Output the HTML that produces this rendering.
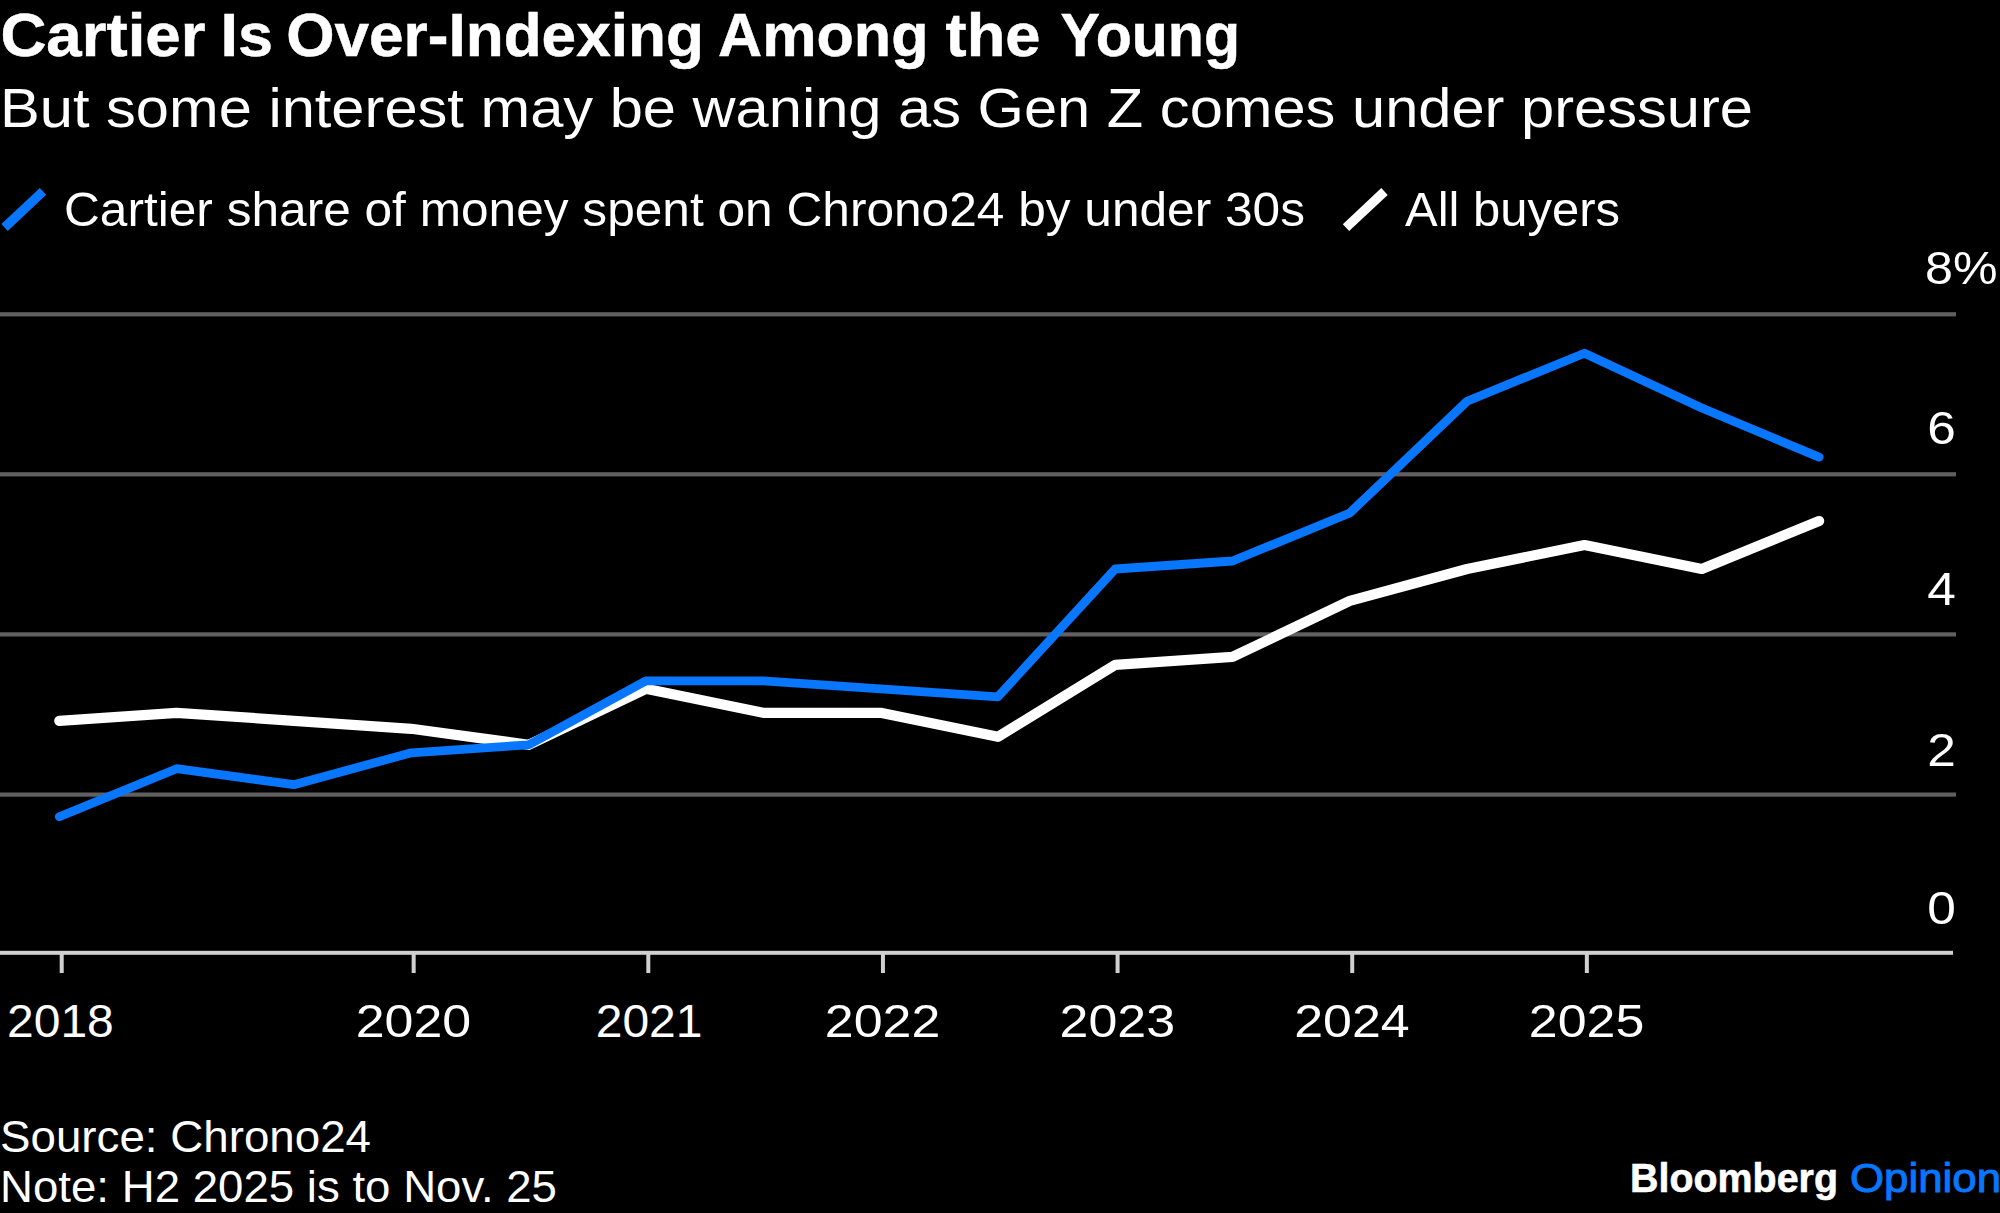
<!DOCTYPE html>
<html lang="en">
<head>
<meta charset="utf-8">
<title>Cartier Is Over-Indexing Among the Young</title>
<style>
html,body{margin:0;padding:0;background:#000;}
body{width:2000px;height:1213px;overflow:hidden;}
svg{display:block;}
text{font-family:"Liberation Sans",sans-serif;fill:#fff;}
</style>
</head>
<body>
<svg width="2000" height="1213" viewBox="0 0 2000 1213">
<rect width="2000" height="1213" fill="#000"/>
<text y="56.2" font-size="62" font-weight="bold" stroke="#fff" stroke-width="0.5"><tspan x="0.4" textLength="205.1" lengthAdjust="spacingAndGlyphs">Cartier</tspan> <tspan x="220.6" textLength="52.5" lengthAdjust="spacingAndGlyphs">Is</tspan> <tspan x="286.2" textLength="417.7" lengthAdjust="spacingAndGlyphs">Over-Indexing</tspan> <tspan x="718.0" textLength="210.5" lengthAdjust="spacingAndGlyphs">Among</tspan> <tspan x="945.6" textLength="95.0" lengthAdjust="spacingAndGlyphs">the</tspan> <tspan x="1060.6" textLength="179.5" lengthAdjust="spacingAndGlyphs">Young</tspan></text>
<text x="0" y="127" font-size="56" textLength="1753" lengthAdjust="spacingAndGlyphs">But some interest may be waning as Gen Z comes under pressure</text>
<line x1="4.6" y1="227.5" x2="43" y2="191.3" stroke="#0876fd" stroke-width="9.3"/>
<text x="64" y="226.3" font-size="48.5" textLength="1241" lengthAdjust="spacingAndGlyphs">Cartier share of money spent on Chrono24 by under 30s</text>
<line x1="1346" y1="227.7" x2="1384.5" y2="191.5" stroke="#fff" stroke-width="9.3"/>
<text x="1405" y="226.3" font-size="48.5" textLength="215" lengthAdjust="spacingAndGlyphs">All buyers</text>
<rect x="0" y="312.2" width="1956" height="4.2" fill="#606060"/>
<rect x="0" y="472.2" width="1956" height="4.2" fill="#606060"/>
<rect x="0" y="632.3" width="1956" height="4.2" fill="#606060"/>
<rect x="0" y="792.5" width="1956" height="4.2" fill="#606060"/>
<text x="1925.0" y="284.0" font-size="46.5" textLength="72.5" lengthAdjust="spacingAndGlyphs">8%</text>
<text x="1927.3" y="444.4" font-size="46.5" textLength="28.6" lengthAdjust="spacingAndGlyphs">6</text>
<text x="1927.3" y="605.0" font-size="46.5" textLength="28.6" lengthAdjust="spacingAndGlyphs">4</text>
<text x="1927.3" y="765.9" font-size="46.5" textLength="28.6" lengthAdjust="spacingAndGlyphs">2</text>
<text x="1927.3" y="924.4" font-size="46.5" textLength="28.6" lengthAdjust="spacingAndGlyphs">0</text>
<rect x="0" y="950.8" width="1953" height="4" fill="#d0d0d0"/>
<rect x="59.70" y="952" width="4" height="21" fill="#d0d0d0"/>
<rect x="411.66" y="952" width="4" height="21" fill="#d0d0d0"/>
<rect x="646.30" y="952" width="4" height="21" fill="#d0d0d0"/>
<rect x="880.94" y="952" width="4" height="21" fill="#d0d0d0"/>
<rect x="1115.58" y="952" width="4" height="21" fill="#d0d0d0"/>
<rect x="1350.22" y="952" width="4" height="21" fill="#d0d0d0"/>
<rect x="1584.86" y="952" width="4" height="21" fill="#d0d0d0"/>
<text x="60.4" y="1036.8" font-size="46.5" text-anchor="middle" textLength="106.8" lengthAdjust="spacingAndGlyphs">2018</text>
<text x="413.4" y="1036.8" font-size="46.5" text-anchor="middle" textLength="115.5" lengthAdjust="spacingAndGlyphs">2020</text>
<text x="649.1" y="1036.8" font-size="46.5" text-anchor="middle" textLength="106.8" lengthAdjust="spacingAndGlyphs">2021</text>
<text x="882.6" y="1036.8" font-size="46.5" text-anchor="middle" textLength="115.5" lengthAdjust="spacingAndGlyphs">2022</text>
<text x="1117.3" y="1036.8" font-size="46.5" text-anchor="middle" textLength="115.5" lengthAdjust="spacingAndGlyphs">2023</text>
<text x="1351.9" y="1036.8" font-size="46.5" text-anchor="middle" textLength="115.5" lengthAdjust="spacingAndGlyphs">2024</text>
<text x="1586.6" y="1036.8" font-size="46.5" text-anchor="middle" textLength="115.5" lengthAdjust="spacingAndGlyphs">2025</text>
<polyline points="59.3,720.8 176.6,712.8 293.9,720.8 411.3,728.8 528.6,744.8 645.9,688.8 763.2,712.8 880.5,712.8 997.9,736.8 1115.2,664.9 1232.5,656.9 1349.8,600.9 1467.1,569.0 1584.5,545.0 1701.8,569.0 1819.1,521.0" fill="none" stroke="#fff" stroke-width="10.2" stroke-linecap="round" stroke-linejoin="round"/>
<polyline points="59.3,816.7 176.6,768.7 293.9,784.7 411.3,752.8 528.6,744.8 645.9,680.8 763.2,680.8 880.5,688.8 997.9,696.8 1115.2,569.0 1232.5,561.0 1349.8,513.0 1467.1,401.2 1584.5,353.2 1701.8,408.0 1819.1,457.1" fill="none" stroke="#0876fd" stroke-width="8.8" stroke-linecap="round" stroke-linejoin="round"/>
<text x="0" y="1151.6" font-size="45" textLength="371" lengthAdjust="spacingAndGlyphs">Source: Chrono24</text>
<text x="0" y="1202.4" font-size="45" textLength="557" lengthAdjust="spacingAndGlyphs">Note: H2 2025 is to Nov. 25</text>
<text x="1630" y="1192" font-size="41" font-weight="bold" stroke="#fff" stroke-width="0.6" textLength="208" lengthAdjust="spacingAndGlyphs">Bloomberg</text>
<text x="1850" y="1192" font-size="41" textLength="151" lengthAdjust="spacingAndGlyphs" style="fill:#0876fd;stroke:#0876fd;stroke-width:1">Opinion</text>
</svg>
</body>
</html>
